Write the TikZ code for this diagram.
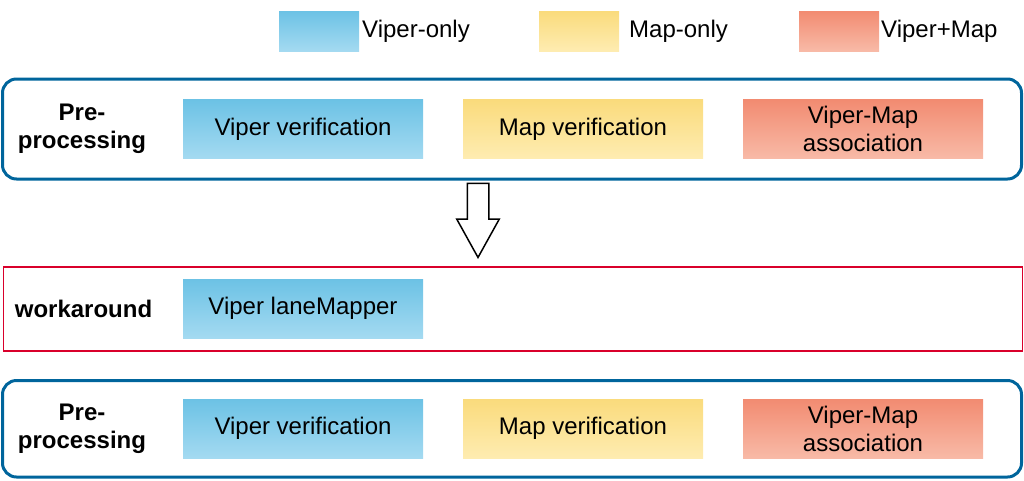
\documentclass[tikz,border=0pt]{standalone}
\usepackage{fontspec}
\setmainfont{Liberation Sans}
\usetikzlibrary{shapes.arrows}
\definecolor{vipertop}{HTML}{6CC2E5}
\definecolor{viperbot}{HTML}{A4DAF1}
\definecolor{maptop}{HTML}{FADB7C}
\definecolor{mapbot}{HTML}{FEECB1}
\definecolor{bothtop}{HTML}{F28B71}
\definecolor{bothbot}{HTML}{F8BAA7}
\definecolor{groupblue}{HTML}{00659C}
\definecolor{groupred}{HTML}{D9002B}
\begin{document}
\begin{tikzpicture}[x=1pt,y=-1pt,
    font=\fontsize{24pt}{28pt}\selectfont,
    group/.style={draw=groupblue,line width=3pt,rounded corners=14pt,minimum width=1019pt,inner sep=0pt},
    workgroup/.style={draw=groupred,line width=1.5pt,minimum width=1019pt,minimum height=84pt,inner sep=0pt},
    stage/.style={minimum width=240pt,minimum height=59pt,inner sep=0pt,align=center},
    viper/.style={stage,top color=vipertop,bottom color=viperbot},
    map/.style={stage,top color=maptop,bottom color=mapbot},
    both/.style={stage,top color=bothtop,bottom color=bothbot},
    key/.style={minimum width=80pt,minimum height=40pt,inner sep=0pt},
    keytext/.style={anchor=base west,inner sep=0pt},
    grouplabel/.style={font=\fontsize{24pt}{28.5pt}\selectfont\bfseries,align=center,inner sep=0pt},
    bigarrow/.style={draw,line width=1.5pt,shape=single arrow,rotate=-90,minimum height=74pt,
      inner xsep=0pt,inner ysep=10pt,single arrow head extend=10.5pt,single arrow tip angle=58}]
  \useasboundingbox (0,0) rectangle (1024,480);

  \node[viper,key] (keyviper) at (319,31) {};
  \node[keytext] (keyvipertext) at (362,37) {Viper-only};
  \node[map,key] (keymap) at (579,31) {};
  \node[keytext] (keymaptext) at (629,37) {Map-only};
  \node[both,key] (keyboth) at (839,31) {};
  \node[keytext] (keybothtext) at (881,37) {Viper+Map};

  \node[group,minimum height=100pt] (pre1) at (512,129) {};
  \node[grouplabel] (pre1label) at (82,129) {Pre-\\processing};
  \node[viper] (viperver1) at (303,129) {Viper verification};
  \node[map] (mapver1) at (583,129) {Map verification};
  \node[both] (assoc1) at (863,129) {Viper-Map\\association};

  \node[bigarrow,anchor=tip] (down) at (478,259) {};

  \node[workgroup] (work) at (513,309) {};
  \node[grouplabel] (worklabel) at (83.5,309) {workaround};
  \node[viper] (lanemapper) at (303,308.5) {Viper laneMapper};

  \node[group,minimum height=96.5pt] (pre2) at (512,428.75) {};
  \node[grouplabel] (pre2label) at (82,428.75) {Pre-\\processing};
  \node[viper] (viperver2) at (303,428.5) {Viper verification};
  \node[map] (mapver2) at (583,428.5) {Map verification};
  \node[both] (assoc2) at (863,428.5) {Viper-Map\\association};
\end{tikzpicture}
\end{document}
